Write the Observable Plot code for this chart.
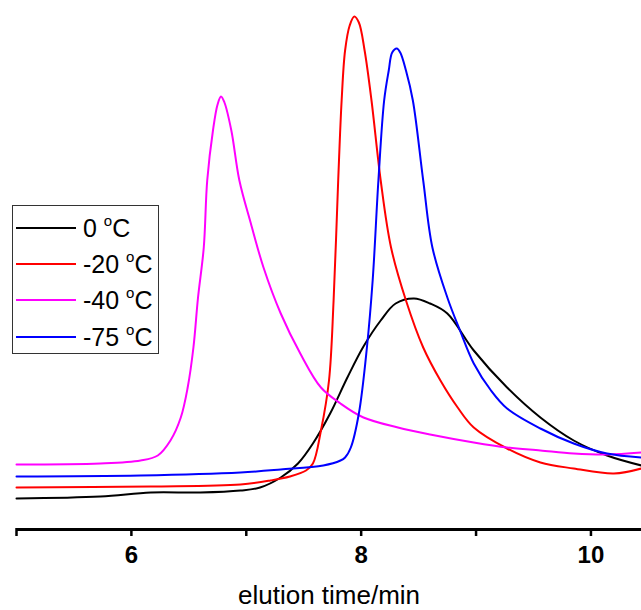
<!DOCTYPE html>
<html>
<head>
<meta charset="utf-8">
<script src="https://cdn.jsdelivr.net/npm/d3@7"></script>
<script src="https://cdn.jsdelivr.net/npm/@observablehq/plot@0.6"></script>
<style>
  body { margin: 0; background: #fff; font-family: Arial, "Liberation Sans", sans-serif; }
  #wrap { position: relative; width: 641px; height: 610px; }
  #legend { position: absolute; left: 12px; top: 205px; width: 145px; height: 147px;
            border: 1.5px solid #333; background: #fff; box-sizing: content-box; }
  .row { position: absolute; left: 0; height: 28px; display: flex; align-items: center; }
  .sw { width: 60px; height: 0; border-top: 2.5px solid; margin-left: 3px; margin-right: 7px; }
  .lb { font-size: 25px; color: #000; white-space: nowrap; }
  .lb sup { font-size: 15px; position: relative; top: -1px; vertical-align: super; line-height: 0; }
</style>
</head>
<body>
<div id="wrap"></div>
<script>
// elution time (min), detector signal (arbitrary units)
const series = ["0 °C", "-20 °C", "-40 °C", "-75 °C"];
const colors = ["#000000", "#ff0000", "#ff00ff", "#0000ff"];

const s0 = [[5.00,30],[5.73,32],[6.17,36],[6.60,36],[6.95,38],[7.12,41],[7.30,51],[7.45,65],[7.58,85],[7.73,115],[7.88,151],[8.02,182],[8.17,208],[8.30,225],[8.46,230],[8.60,225],[8.75,215],[8.98,178],[9.27,141],[9.56,111],[9.85,88],[10.14,73],[10.44,63]];
const s20 = [[5.00,41],[6.17,42],[6.95,44],[7.21,48],[7.38,52],[7.52,58],[7.58,65],[7.65,98],[7.72,148],[7.76,228],[7.80,348],[7.83,428],[7.86,478],[7.90,503],[7.94,512],[7.98,506],[8.03,478],[8.09,428],[8.17,348],[8.26,281],[8.39,228],[8.54,181],[8.69,148],[8.84,121],[8.98,101],[9.27,80],[9.56,66],[9.85,60],[10.20,55],[10.44,60]];
const s40 = [[5.00,64],[5.73,65],[6.08,68],[6.23,73],[6.34,88],[6.43,111],[6.49,141],[6.54,181],[6.58,231],[6.63,281],[6.66,348],[6.71,398],[6.75,424],[6.78,432],[6.81,426],[6.87,398],[6.94,348],[7.04,305],[7.15,261],[7.30,215],[7.47,175],[7.65,141],[7.82,125],[8.02,111],[8.32,101],[8.60,94],[8.98,86],[9.27,81],[9.56,78],[9.85,75],[10.14,74],[10.44,76]];
const s75 = [[5.00,52],[6.08,53],[6.95,56],[7.30,59],[7.67,63],[7.82,68],[7.86,71],[7.91,81],[7.98,115],[8.05,181],[8.10,248],[8.15,348],[8.20,428],[8.24,458],[8.27,476],[8.31,480],[8.34,476],[8.39,458],[8.45,428],[8.54,348],[8.62,281],[8.75,231],[8.86,198],[8.98,165],[9.13,138],[9.27,120],[9.56,100],[9.85,85],[10.14,75],[10.44,71]];

const xTicks = [5, 6, 7, 8, 9, 10];
const xLabels = [6, 8, 10];
const xTitle = "elution time/min";

const all = [s0, s20, s40, s75];
const rows = all.flatMap((s, i) => s.map(([t, v]) => ({t, v, series: series[i]})));

const chart = Plot.plot({
  width: 641,
  height: 610,
  marginLeft: 16,
  marginRight: 0,
  marginTop: 15,
  marginBottom: 82,
  style: { fontFamily: 'Arial, "Liberation Sans", sans-serif', background: "#fff", overflow: "visible" },
  x: { domain: [5, 10.44], label: null },
  y: { domain: [0, 513], axis: null },
  color: { domain: series, range: colors },
  marks: [
    Plot.line(rows, { x: "t", y: "v", z: "series", stroke: "series", strokeWidth: 2, curve: "catmull-rom" }),
    Plot.ruleY([0], { stroke: "#000", strokeWidth: 3, dy: 1 }),
    Plot.axisX({
      ticks: xTicks,
      tickFormat: d => xLabels.includes(d) ? String(d) : "",
      tickSize: 8,
      tickPadding: 9,
      strokeWidth: 2.5,
      stroke: "#000",
      fill: "#000",
      fontSize: 24,
      fontWeight: "bold",
      label: null
    }),
    Plot.text([xTitle], { frameAnchor: "bottom", dy: 75, fontSize: 26, fill: "#000" })
  ]
});

const wrap = document.getElementById("wrap");
wrap.appendChild(chart);

const legend = document.createElement("div");
legend.id = "legend";
const tops = [8, 44, 80, 117];
series.forEach((name, i) => {
  const row = document.createElement("div");
  row.className = "row";
  row.style.top = tops[i] + "px";
  const sw = document.createElement("div");
  sw.className = "sw";
  sw.style.borderTopColor = colors[i];
  const lb = document.createElement("span");
  lb.className = "lb";
  const parts = name.split(" °");
  lb.innerHTML = parts[0] + " <sup>o</sup>" + parts[1];
  row.appendChild(sw);
  row.appendChild(lb);
  legend.appendChild(row);
});
wrap.appendChild(legend);
</script>
</body>
</html>
